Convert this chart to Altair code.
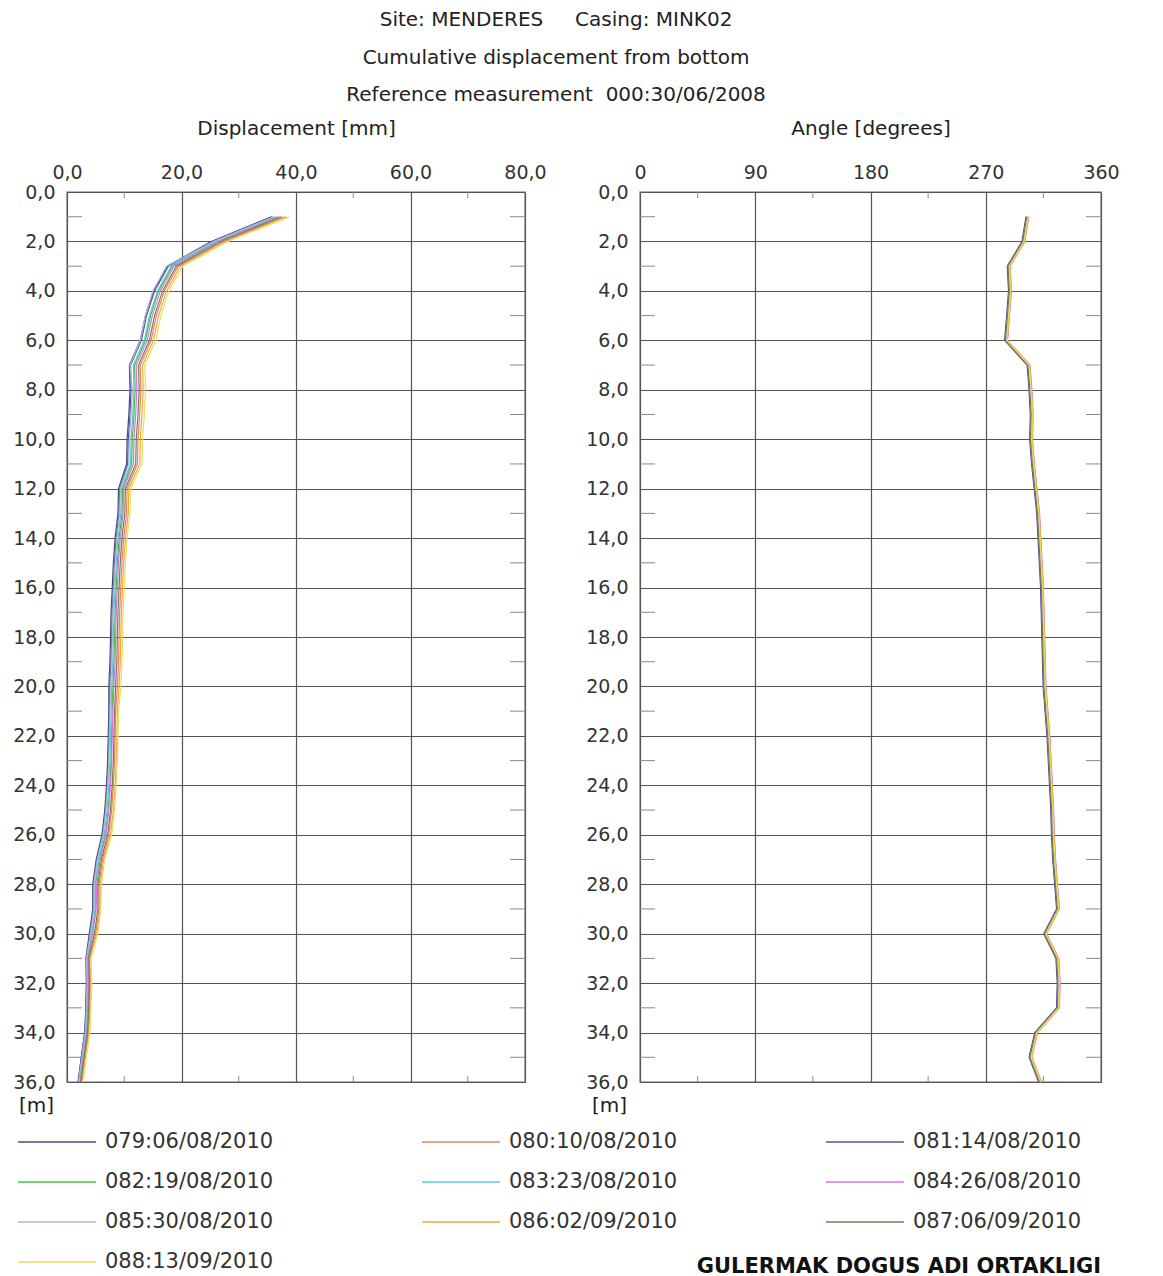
import altair as alt
import pandas as pd

FONT = "DejaVu Sans"

# ---------------- data ----------------
depths = [1, 2, 3, 4, 5, 6, 7, 8, 9, 10, 11, 12, 13, 14, 15, 16, 17, 18,
          19, 20, 21, 22, 23, 24, 25, 26, 27, 28, 29, 30, 31, 32, 33, 34, 35, 36]

series_names = ["079:06/08/2010", "080:10/08/2010", "081:14/08/2010",
                "082:19/08/2010", "083:23/08/2010", "084:26/08/2010",
                "085:30/08/2010", "086:02/09/2010", "087:06/09/2010",
                "088:13/09/2010"]
series_colors = ["#4b4b7d", "#e8826a", "#5a4fa0", "#3cc43c", "#4fd0d0",
                 "#e070e0", "#a9b8d6", "#f0a840", "#7a7a5a", "#e8e050"]

disp_079 = [35.7, 25.2, 17.5, 15.1, 13.7, 12.8, 10.9, 11.0, 10.8, 10.5, 10.4, 9.0,
            8.9, 8.4, 8.1, 7.9, 7.7, 7.6, 7.5, 7.3, 7.3, 7.2, 7.1, 6.9,
            6.6, 6.1, 5.1, 4.5, 4.5, 3.9, 3.3, 3.4, 3.3, 3.1, 2.5, 1.9]
disp_080 = [38.0, 27.3, 19.4, 17.0, 15.6, 14.7, 12.8, 12.9, 12.7, 12.4, 12.3, 10.5,
            10.4, 9.9, 9.6, 9.4, 9.2, 9.1, 9.0, 8.8, 8.5, 8.4, 8.3, 8.1,
            7.8, 7.3, 6.2, 5.6, 5.6, 5.0, 3.9, 4.0, 3.9, 3.7, 3.1, 2.5]
disp_081 = [35.9, 25.4, 17.7, 15.3, 13.9, 13.0, 11.1, 11.2, 11.0, 10.7, 10.6, 9.2,
            9.1, 8.6, 8.3, 8.1, 7.9, 7.8, 7.7, 7.5, 7.4, 7.3, 7.2, 7.0,
            6.7, 6.2, 5.2, 4.6, 4.6, 4.0, 3.4, 3.4, 3.3, 3.1, 2.5, 2.0]
disp_082 = [36.8, 26.2, 18.4, 16.0, 14.6, 13.7, 11.8, 11.9, 11.7, 11.4, 11.3, 9.7,
            9.6, 9.1, 8.8, 8.6, 8.4, 8.3, 8.2, 8.0, 7.9, 7.8, 7.7, 7.5,
            7.2, 6.7, 5.6, 5.0, 5.0, 4.4, 3.6, 3.7, 3.6, 3.4, 2.8, 2.2]
disp_083 = [36.4, 25.9, 18.2, 15.8, 14.4, 13.5, 11.6, 11.7, 11.5, 11.2, 11.1, 9.5,
            9.4, 8.9, 8.6, 8.4, 8.2, 8.1, 8.0, 7.8, 7.7, 7.6, 7.5, 7.3,
            7.0, 6.5, 5.5, 4.9, 4.9, 4.3, 3.5, 3.6, 3.5, 3.3, 2.7, 2.1]
disp_084 = [37.1, 26.5, 18.7, 16.3, 14.9, 14.0, 12.1, 12.2, 12.0, 11.7, 11.6, 9.9,
            9.8, 9.3, 9.0, 8.8, 8.6, 8.5, 8.4, 8.2, 8.0, 7.9, 7.8, 7.6,
            7.3, 6.8, 5.8, 5.2, 5.1, 4.5, 3.7, 3.8, 3.7, 3.5, 2.9, 2.3]
disp_085 = [36.1, 25.6, 17.4, 15.0, 13.7, 12.8, 11.0, 11.4, 11.2, 10.9, 10.8, 9.3,
            9.2, 8.7, 8.4, 8.2, 8.0, 7.9, 7.8, 7.6, 7.5, 7.4, 7.3, 7.1,
            6.8, 6.3, 5.3, 4.7, 4.7, 4.1, 3.4, 3.5, 3.4, 3.2, 2.6, 2.0]
disp_086 = [38.4, 27.7, 19.8, 17.4, 16.0, 15.1, 13.2, 13.3, 13.1, 12.8, 12.7, 10.8,
            10.7, 10.2, 9.9, 9.7, 9.5, 9.4, 9.3, 9.1, 8.8, 8.7, 8.6, 8.4,
            8.1, 7.6, 6.4, 5.8, 5.8, 5.2, 4.0, 4.1, 4.0, 3.8, 3.2, 2.6]
disp_087 = [37.5, 26.9, 19.1, 16.7, 15.3, 14.4, 12.5, 12.6, 12.4, 12.1, 12.0, 10.2,
            10.1, 9.6, 9.3, 9.1, 8.9, 8.8, 8.7, 8.5, 8.3, 8.2, 8.1, 7.9,
            7.6, 7.1, 6.0, 5.4, 5.4, 4.8, 3.8, 3.9, 3.8, 3.6, 3.0, 2.4]
disp_088 = [38.9, 28.1, 20.2, 17.8, 16.4, 15.5, 13.6, 13.7, 13.5, 13.2, 13.1, 11.1,
            11.0, 10.5, 10.2, 10.0, 9.8, 9.7, 9.6, 9.4, 9.0, 8.9, 8.8, 8.6,
            8.3, 7.8, 6.6, 6.0, 5.9, 5.4, 4.2, 4.3, 4.2, 4.0, 3.4, 2.8]

angle_079 = [301.8, 298.7, 287.2, 288.2, 286.7, 285.0, 302.7, 304.2, 305.2, 304.7, 306.2, 308.2,
             310.2, 311.2, 312.2, 313.2, 313.7, 314.2, 314.7, 315.2, 316.7, 318.2, 319.2, 320.2,
             321.2, 321.7, 322.7, 324.2, 325.7, 315.7, 325.2, 326.2, 325.7, 308.7, 304.2, 311.7]
angle_080 = [303.2, 300.1, 288.6, 289.6, 288.1, 286.6, 304.1, 305.6, 306.6, 306.1, 307.6, 309.6,
             311.6, 312.6, 313.6, 314.6, 315.1, 315.6, 316.1, 316.6, 318.1, 319.6, 320.6, 321.6,
             322.6, 323.1, 324.1, 325.6, 327.1, 317.1, 326.6, 327.6, 327.1, 310.1, 305.6, 313.1]
angle_081 = [301.4, 298.3, 286.8, 287.8, 286.3, 284.8, 302.3, 303.8, 304.8, 304.3, 305.8, 307.8,
             309.8, 310.8, 311.8, 312.8, 313.3, 313.8, 314.3, 314.8, 316.3, 317.8, 318.8, 319.8,
             320.8, 321.3, 322.3, 323.8, 325.3, 315.3, 324.8, 325.8, 325.3, 308.3, 303.8, 311.3]
angle_082 = [302.8, 299.7, 288.2, 289.2, 287.7, 286.2, 303.7, 305.2, 306.2, 305.7, 307.2, 309.2,
             311.2, 312.2, 313.2, 314.2, 314.7, 315.2, 315.7, 316.2, 317.7, 319.2, 320.2, 321.2,
             322.2, 322.7, 323.7, 325.2, 326.7, 316.7, 326.2, 327.2, 326.7, 309.7, 305.2, 312.7]
angle_083 = [302.2, 299.1, 287.6, 288.6, 287.1, 285.6, 303.1, 304.6, 305.6, 305.1, 306.6, 308.6,
             310.6, 311.6, 312.6, 313.6, 314.1, 314.6, 315.1, 315.6, 317.1, 318.6, 319.6, 320.6,
             321.6, 322.1, 323.1, 324.6, 326.1, 316.1, 325.6, 326.6, 326.1, 309.1, 304.6, 312.1]
angle_084 = [303.6, 300.5, 289.0, 290.0, 288.5, 287.0, 304.5, 306.0, 307.0, 306.5, 308.0, 310.0,
             312.0, 313.0, 314.0, 315.0, 315.5, 316.0, 316.5, 317.0, 318.5, 320.0, 321.0, 322.0,
             323.0, 323.5, 324.5, 326.0, 327.5, 317.5, 327.0, 328.0, 327.5, 310.5, 306.0, 313.5]
angle_085 = [302.4, 299.3, 287.8, 288.8, 287.3, 285.8, 303.3, 304.8, 305.8, 305.3, 306.8, 308.8,
             310.8, 311.8, 312.8, 313.8, 314.3, 314.8, 315.3, 315.8, 317.3, 318.8, 319.8, 320.8,
             321.8, 322.3, 323.3, 324.8, 326.3, 316.3, 325.8, 326.8, 326.3, 309.3, 304.8, 312.3]
angle_086 = [303.4, 300.3, 288.8, 289.8, 288.3, 286.8, 304.3, 305.8, 306.8, 306.3, 307.8, 309.8,
             311.8, 312.8, 313.8, 314.8, 315.3, 315.8, 316.3, 316.8, 318.3, 319.8, 320.8, 321.8,
             322.8, 323.3, 324.3, 325.8, 327.3, 317.3, 326.8, 327.8, 327.3, 310.3, 305.8, 313.3]
angle_087 = [302.0, 298.9, 287.4, 288.4, 286.9, 285.4, 302.9, 304.4, 305.4, 304.9, 306.4, 308.4,
             310.4, 311.4, 312.4, 313.4, 313.9, 314.4, 314.9, 315.4, 316.9, 318.4, 319.4, 320.4,
             321.4, 321.9, 322.9, 324.4, 325.9, 315.9, 325.4, 326.4, 325.9, 308.9, 304.4, 311.9]
angle_088 = [303.0, 299.9, 288.4, 289.4, 287.9, 286.4, 303.9, 305.4, 306.4, 305.9, 307.4, 309.4,
             311.4, 312.4, 313.4, 314.4, 314.9, 315.4, 315.9, 316.4, 317.9, 319.4, 320.4, 321.4,
             322.4, 322.9, 323.9, 325.4, 326.9, 316.9, 326.4, 327.4, 326.9, 309.9, 305.4, 312.9]

disp_series = [disp_079, disp_080, disp_081, disp_082, disp_083,
               disp_084, disp_085, disp_086, disp_087, disp_088]
angle_series = [angle_079, angle_080, angle_081, angle_082, angle_083,
                angle_084, angle_085, angle_086, angle_087, angle_088]

depth_ticks = [0, 2, 4, 6, 8, 10, 12, 14, 16, 18, 20, 22, 24, 26, 28, 30, 32, 34, 36]
depth_minor = [1, 3, 5, 7, 9, 11, 13, 15, 17, 19, 21, 23, 25, 27, 29, 31, 33, 35]
disp_ticks = [0, 20, 40, 60, 80]
disp_minor = [10, 30, 50, 70]
angle_ticks = [0, 90, 180, 270, 360]
angle_minor = [45, 135, 225, 315]

title_lines = ["Site: MENDERES\u00a0\u00a0\u00a0\u00a0 Casing: MINK02",
               "Cumulative displacement from bottom",
               "Reference measurement\u00a0 000:30/06/2008"]
footer_text = "GULERMAK DOGUS ADI ORTAKLIGI"

rows = []
for name, dv, av in zip(series_names, disp_series, angle_series):
    for d, x, a in zip(depths, dv, av):
        rows.append({"series": name, "depth": d, "disp": x, "angle": a})
df = pd.DataFrame(rows)

# ---------------- chart ----------------
H = 890
TICK_COLOR = "#8a8a8a"
DEC_EXPR = "replace(format(datum.value, '.1f'), '.', ',')"

y_scale = alt.Scale(domain=[0, 36], reverse=True, nice=False, zero=False)

legend = alt.Legend(
    orient="none", legendX=-24, legendY=936, columns=3, direction="horizontal",
    title=None, symbolType="M-3,0H3", symbolSize=676, symbolStrokeWidth=1.4,
    labelFont=FONT, labelFontSize=21, labelColor="#333", labelOffset=34,
    columnPadding=145, rowPadding=16, labelLimit=400, padding=0,
)
color = alt.Color("series:N",
                  scale=alt.Scale(domain=series_names, range=series_colors),
                  sort=series_names, legend=legend)


def panel(field, domain, major, minor, axis_title, label_expr, W):
    xs = alt.Scale(domain=domain, nice=False, zero=False)
    x_axis = alt.Axis(orient="top", values=major, title=axis_title,
                      labelExpr=label_expr, ticks=False, domain=False,
                      labelFlush=False, labelPadding=10, minExtent=30, maxExtent=30,
                      titlePadding=24, grid=True)
    y_axis = alt.Axis(values=depth_ticks, labelExpr=DEC_EXPR, ticks=False,
                      domain=False, labelFlush=False, labelPadding=12,
                      minExtent=58, maxExtent=58,
                      title="[m]", titleAngle=0, titleX=-31, titleY=H + 23,
                      titleAlign="center", titleBaseline="middle", grid=True)
    lines = alt.Chart(df).mark_line(strokeWidth=1.2).encode(
        x=alt.X(f"{field}:Q", scale=xs, axis=x_axis),
        y=alt.Y("depth:Q", scale=y_scale, axis=y_axis),
        color=color,
        order=alt.Order("depth:Q"),
    )
    edge = pd.DataFrame({"depth": depth_minor})
    left_t = alt.Chart(edge).mark_rule(color=TICK_COLOR).encode(
        y=alt.Y("depth:Q", scale=y_scale),
        x=alt.value(0), x2=alt.value(15))
    right_t = alt.Chart(edge).mark_rule(color=TICK_COLOR).encode(
        y=alt.Y("depth:Q", scale=y_scale),
        x=alt.value(W - 15), x2=alt.value(W))
    tb = pd.DataFrame({field: minor})
    top_t = alt.Chart(tb).mark_rule(color=TICK_COLOR).encode(
        x=alt.X(f"{field}:Q", scale=xs),
        y=alt.value(0), y2=alt.value(6))
    bot_t = alt.Chart(tb).mark_rule(color=TICK_COLOR).encode(
        x=alt.X(f"{field}:Q", scale=xs),
        y=alt.value(H - 6), y2=alt.value(H))
    return alt.layer(lines, left_t, right_t, top_t, bot_t).properties(width=W, height=H)


left = panel("disp", [0, 80], disp_ticks, disp_minor, "Displacement [mm]", DEC_EXPR, 458)
right = panel("angle", [0, 360], angle_ticks, angle_minor, "Angle [degrees]",
              "format(datum.value, 'd')", 461).properties(
    title=alt.TitleParams(footer_text, orient="bottom", anchor="end", frame="group",
                          offset=141, font=FONT, fontSize=21, fontWeight="bold",
                          color="#111")
)

chart = alt.hconcat(left, right, spacing=34).properties(
    title=alt.TitleParams(title_lines, anchor="middle", font=FONT, fontSize=20,
                          fontWeight="normal", color="#222", lineHeight=37.5,
                          offset=12, dx=-8),
    padding={"left": 0, "top": 2, "right": 5, "bottom": 5},
).configure(font=FONT).configure_view(
    stroke="#9a9a9a", strokeWidth=1.5
).configure_axis(
    labelFont=FONT, labelFontSize=19, labelColor="#333",
    titleFont=FONT, titleFontSize=20, titleFontWeight="normal", titleColor="#222",
    gridColor="#555", gridOpacity=1, gridWidth=1.2,
)

chart.save("out.html", embed_options={"renderer": "svg", "actions": False})
